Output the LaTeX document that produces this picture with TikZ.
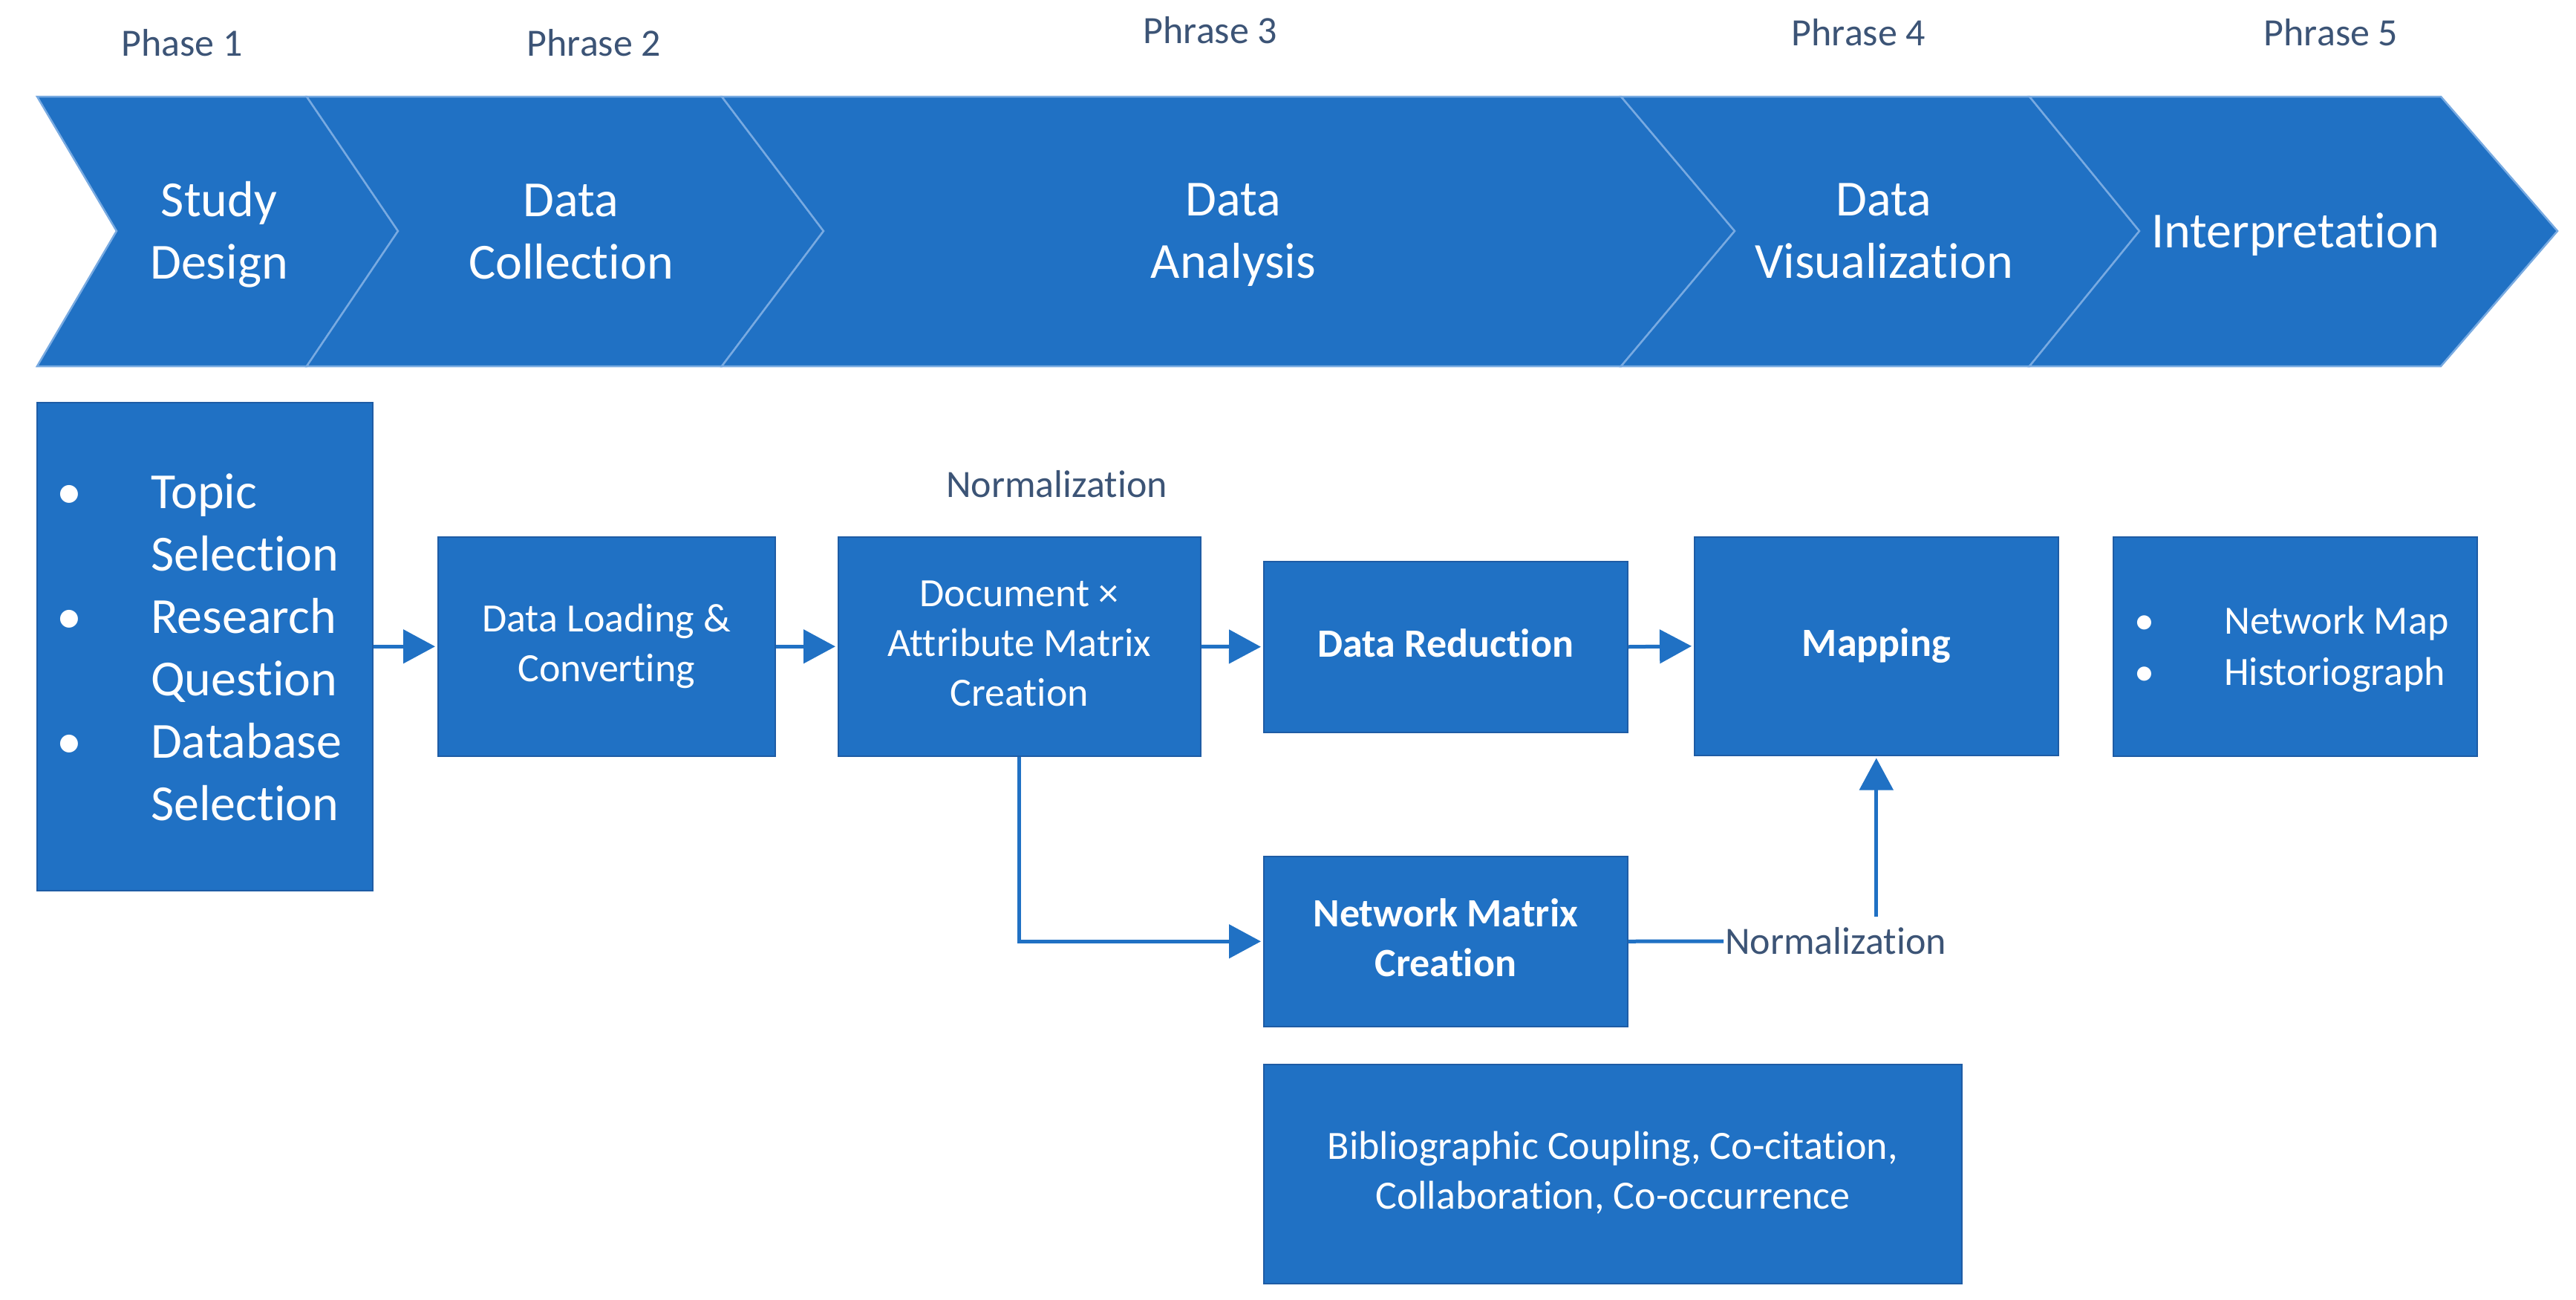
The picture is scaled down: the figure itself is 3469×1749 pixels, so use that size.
\documentclass[tikz,border=0pt]{standalone}
\usepackage{fontspec}
\setmainfont{Carlito}[Ligatures={NoCommon}]
\usetikzlibrary{arrows.meta}
\definecolor{boxblue}{RGB}{32,113,196}
\definecolor{edgeblue}{RGB}{30,92,165}
\definecolor{chevline}{RGB}{120,170,225}
\definecolor{slate}{RGB}{60,84,118}
\newcommand{\fsBig}{\fontsize{68}{84}\selectfont}
\newcommand{\fsMid}{\fontsize{54}{67}\selectfont}
\newcommand{\fsLab}{\fontsize{52}{64}\selectfont}
\newcommand{\fsList}{\fontsize{54}{69}\selectfont}
\begin{document}
\begin{tikzpicture}[x=1pt,y=-1pt,
  chev/.style={fill=boxblue, draw=chevline, line width=2.5pt, line join=miter},
  chevtext/.style={text=white, font=\fsBig, align=center, inner sep=0pt},
  lab/.style={text=slate, font=\fsLab, inner sep=0pt},
  box/.style={rectangle, fill=boxblue, draw=edgeblue, line width=1.5pt, inner sep=0pt,
    align=center, text=white, font=\fsMid, anchor=north west},
  conn/.style={draw=boxblue, line width=5pt, line join=miter},
  arr/.style={conn, -{Triangle[length=43pt,width=45pt]}, shorten >=3pt}
]
\fill[white] (0,0) rectangle (3469,1749);
\useasboundingbox (0,0) rectangle (3469,1749);

% chevron band
\path[chev] (50,130) -- (413,130) -- (536,311) -- (413,493) -- (50,493) -- (157,311) -- cycle;
\path[chev] (413,130) -- (972,130) -- (1109,311) -- (972,493) -- (413,493) -- (536,311) -- cycle;
\path[chev] (972,130) -- (2183,130) -- (2336,311) -- (2183,493) -- (972,493) -- (1109,311) -- cycle;
\path[chev] (2183,130) -- (2733,130) -- (2881,311) -- (2733,493) -- (2183,493) -- (2336,311) -- cycle;
\path[chev] (2733,130) -- (3287,130) -- (3444,311) -- (3287,493) -- (2733,493) -- (2881,311) -- cycle;

% chevron texts
\node[chevtext] (c1) at (295,317) {\strut Study\\\strut Design};
\node[chevtext] (c2) at (769,317) {\strut Data\\\strut Collection};
\node[chevtext] (c3) at (1661,316) {\strut Data\\\strut Analysis};
\node[chevtext] (c4) at (2537,316) {\strut Data\\\strut Visualization};
\node[chevtext, anchor=base] (c5) at (3091,333) {Interpretation};

% phase labels
\node[lab, anchor=base] (p1) at (245,75) {Phase 1};
\node[lab, anchor=base] (p2) at (800,75) {Phrase 2};
\node[lab, anchor=base] (p3) at (1630,58) {Phrase 3};
\node[lab, anchor=base] (p4) at (2503,61) {Phrase 4};
\node[lab, anchor=base] (p5) at (3139,61) {Phrase 5};

% boxes
\node[box, minimum width=452pt, minimum height=657pt] (sd) at (49,541) {};
\node[anchor=north west, inner sep=0pt, text=white, font=\fsBig] (sdlist) at (76,625)
  {\begin{tabular}{@{}l@{}l@{}}
   \makebox[34pt]{\textbullet}\hspace{93pt} & Topic\\
   & Selection\\
   \makebox[34pt]{\textbullet}\hspace{93pt} & Research\\
   & Question\\
   \makebox[34pt]{\textbullet}\hspace{93pt} & Database\\
   & Selection
   \end{tabular}};

\node[box, minimum width=454pt, minimum height=295pt] (dl) at (589,722)
  {\strut Data Loading \&\\\strut Converting};
\node[box, minimum width=488pt, minimum height=295pt] (dam) at (1128,722)
  {\strut Document ×\\\strut Attribute Matrix\\\strut Creation};
\node[box, minimum width=490pt, minimum height=230pt, font=\fsMid\bfseries] (dr) at (1701,755)
  {\strut Data Reduction};
\node[box, minimum width=490pt, minimum height=294pt, font=\fsMid\bfseries] (map) at (2281,722)
  {\strut Mapping};
\node[box, minimum width=490pt, minimum height=295pt] (ip) at (2845,722) {};
\node[anchor=north west, inner sep=0pt, text=white, font=\fsList] (iplist) at (2874,805)
  {\begin{tabular}{@{}l@{}l@{}}
   \makebox[27pt]{\textbullet}\hspace{94pt} & Network Map\\
   \makebox[27pt]{\textbullet}\hspace{94pt} & Historiograph
   \end{tabular}};
\node[box, minimum width=490pt, minimum height=229pt, font=\fsMid\bfseries] (nm) at (1701,1152)
  {\strut Network Matrix\\\strut Creation};
\node[box, minimum width=940pt, minimum height=295pt] (bib) at (1701,1432)
  {\strut Bibliographic Coupling, Co-citation,\\\strut Collaboration, Co-occurrence};

% normalization labels
\node[lab, anchor=base] (norm1) at (1423,669) {Normalization};
\node[lab, anchor=west, inner xsep=2pt, inner ysep=15pt] (norm2) at (2321,1267) {Normalization};

% connectors
\draw[arr] (sd.east) -- (dl.west);
\draw[arr] (dl.east) -- (dam.west);
\draw[arr] (dam.east) -- (dr.west);
\draw[arr] (dr.east) -- (map.west);
\draw[arr] (dam.south) |- (nm.west);
\draw[conn] (nm.east) -- (norm2.west);
\draw[arr] (norm2.north -| map.south) -- (map.south);
\end{tikzpicture}
\end{document}
